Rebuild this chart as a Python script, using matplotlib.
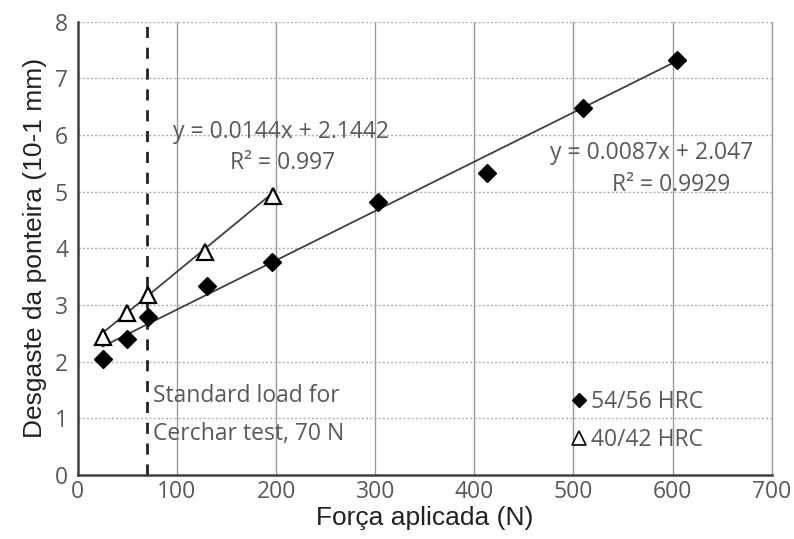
import matplotlib
matplotlib.use("Agg")
import matplotlib.pyplot as plt
import numpy as np

# dados
forca_54 = [25, 50, 71, 130, 196, 303, 413, 510, 604]
desg_54 = [2.04, 2.39, 2.78, 3.33, 3.75, 4.82, 5.33, 6.48, 7.32]
forca_40 = [25, 50, 71, 128, 197]
desg_40 = [2.44, 2.85, 3.17, 3.93, 4.93]

# coeficientes das linhas de tendencia (como impresso no grafico)
coef_54 = [0.0087, 2.047]
coef_40 = [0.0144, 2.1442]
carga_padrao = 70

gray_txt = "#595959"

fig = plt.figure(figsize=(7.94, 5.39), dpi=100)
ax = fig.add_axes([0.098, 0.119, 0.874, 0.841])

ax.set_xlim(0, 700)
ax.set_ylim(0, 8)
ax.set_xticks(np.arange(0, 701, 100))
ax.set_yticks(np.arange(0, 9, 1))

# grades: verticais solidas, horizontais pontilhadas
for xv in ax.get_xticks()[1:-1]:
    ax.axvline(xv, color="#9a9a9a", lw=1.0, zorder=0)
for yv in ax.get_yticks()[1:]:
    ax.axhline(yv, color="#b0b0b0", lw=1.0, ls=(0, (1.5, 1.5)), zorder=0)

for s in ["left", "bottom"]:
    ax.spines[s].set_color("#404040")
    ax.spines[s].set_linewidth(1.8)
ax.spines["top"].set_visible(False)
ax.spines["right"].set_color("#9a9a9a")
ax.spines["right"].set_linewidth(1.0)

ax.tick_params(length=0, labelsize=16.5, labelcolor=gray_txt)
ax.tick_params(axis="y", pad=7)
ax.tick_params(axis="x", pad=4)
for lab in ax.get_xticklabels() + ax.get_yticklabels():
    lab.set_family("Open Sans")

# linha de carga padrao
ax.axvline(carga_padrao, color="#222222", lw=2.0, ls=(0, (4, 3.5)), zorder=2)

# linhas de tendencia
x54 = np.array([forca_54[0], forca_54[-1]])
ax.plot(x54, coef_54[0] * x54 + coef_54[1], color="#404040", lw=1.3, zorder=3)
x40 = np.array([forca_40[0], forca_40[-1]])
ax.plot(x40, coef_40[0] * x40 + coef_40[1], color="#404040", lw=1.3, zorder=3)

ax.plot(forca_54, desg_54, ls="none", marker="D", ms=9, color="black",
        zorder=4, label="54/56 HRC")
ax.plot(forca_40, desg_40, ls="none", marker="^", ms=11, mfc="white",
        mec="black", mew=1.6, zorder=4, label="40/42 HRC")

tfont = dict(family="Open Sans", fontsize=16.5, color=gray_txt)
ax.text(205, 6.05, "y = 0.0144x + 2.1442", ha="center", va="center", **tfont)
ax.text(207, 5.5, "R² = 0.997", ha="center", va="center", **tfont)
ax.text(579, 5.68, "y = 0.0087x + 2.047", ha="center", va="center", **tfont)
ax.text(598, 5.11, "R² = 0.9929", ha="center", va="center", **tfont)
ax.text(76, 1.39, "Standard load for", ha="left", va="center", **tfont)
ax.text(76, 0.72, "Cerchar test, 70 N", ha="left", va="center", **tfont)

leg = ax.legend(loc="lower left", bbox_to_anchor=(0.677, 0.005), frameon=False,
                handletextpad=0.1, handlelength=0.9, labelspacing=0.6,
                prop={"family": "Open Sans", "size": 16.5})
for t in leg.get_texts():
    t.set_color(gray_txt)
leg.legend_handles[0].set_markersize(7)
leg.legend_handles[1].set_markersize(10)
leg.legend_handles[1].set_markeredgewidth(1.2)

ax.set_xlabel("Força aplicada (N)", fontsize=19, family="Liberation Sans",
              color="#222222", labelpad=1)
ax.set_ylabel("Desgaste da ponteira (10-1 mm)", fontsize=19,
              family="Liberation Sans", color="#222222", labelpad=6)

fig.savefig("out.png", dpi=100)
